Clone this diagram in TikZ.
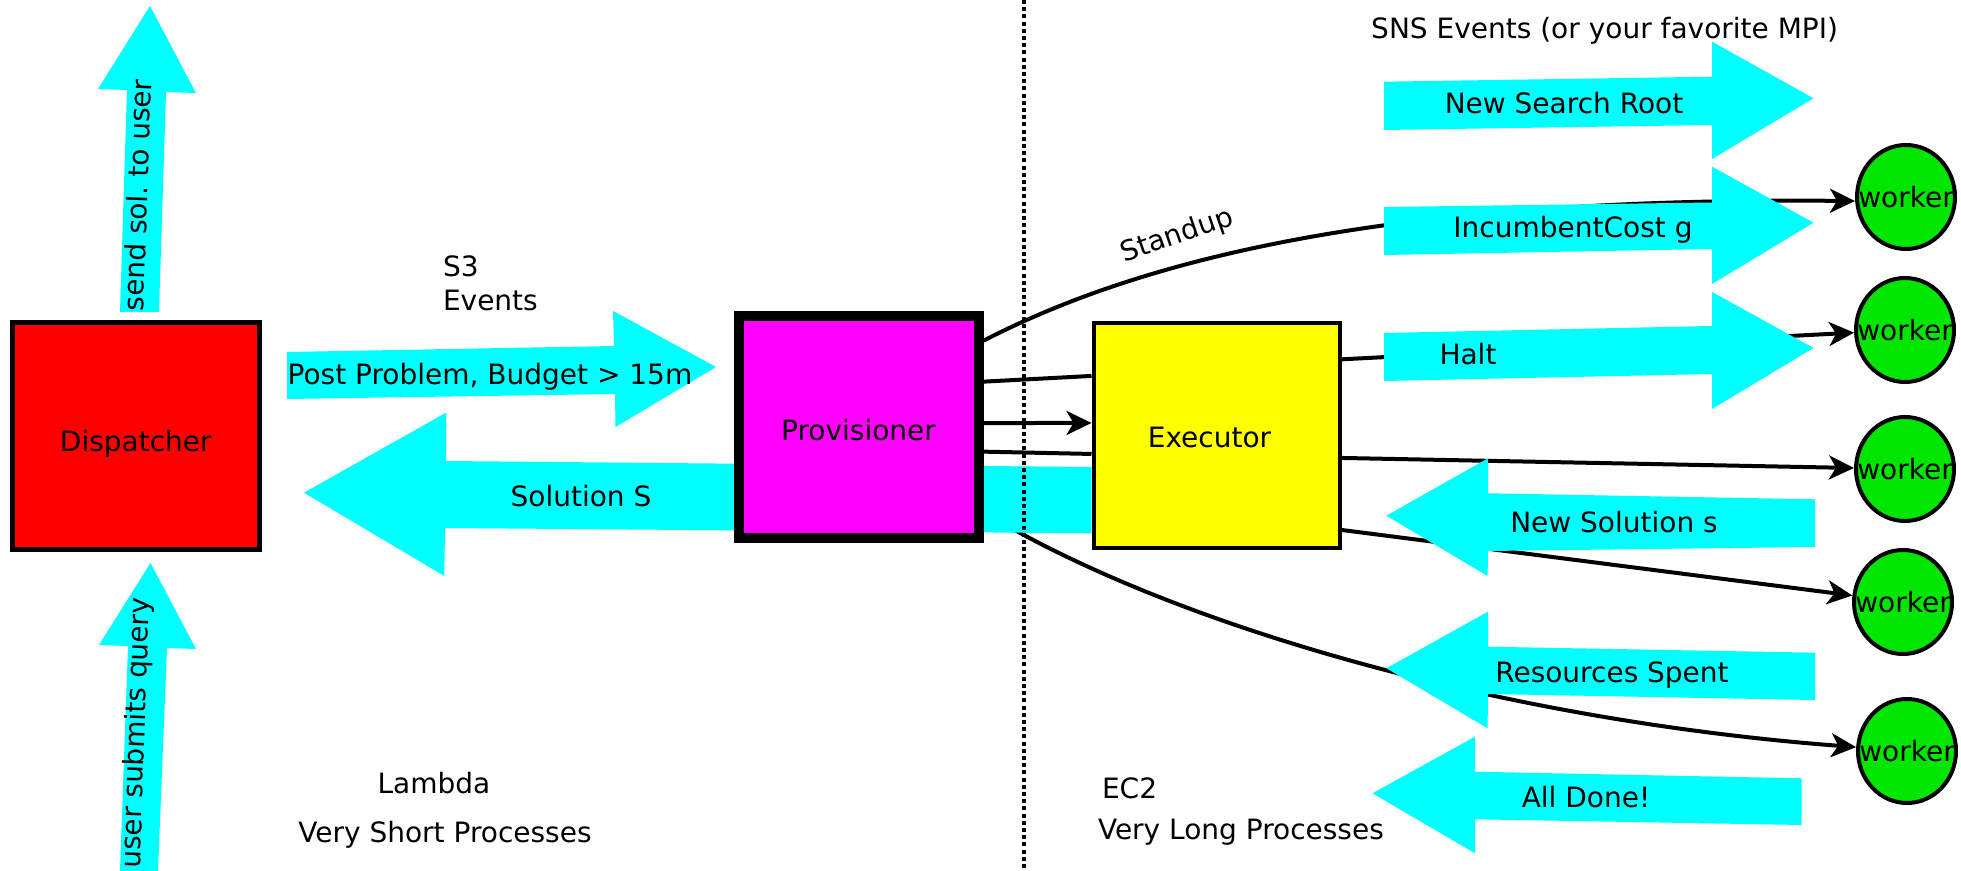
\documentclass[tikz,border=0pt]{standalone}
\usepackage{fontspec}
\setmainfont{DejaVu Sans}
\usetikzlibrary{arrows.meta,shapes.geometric}
\pgfdeclarelayer{back}
\pgfdeclarelayer{mid}
\pgfsetlayers{back,mid,main}
\definecolor{flowcyan}{HTML}{00FFFF}
\definecolor{dispred}{HTML}{FF0000}
\definecolor{provmag}{HTML}{FF00FF}
\definecolor{exeyellow}{HTML}{FFFF00}
\definecolor{workgreen}{HTML}{00E600}

\begin{document}
\begin{tikzpicture}[x=0.5pt,y=-0.5pt,
  lbl/.style={font=\fontsize{14pt}{16.8pt}\selectfont, inner sep=0pt, outer sep=0pt},
  procbox/.style={draw=black, rectangle},
  workernode/.style={draw=black, ellipse, line width=2pt, fill=workgreen,
    minimum width=49pt, minimum height=52pt, inner sep=0pt,
    label={[lbl]center:worker}},
  conn/.style={draw=black, line width=2pt},
  arr/.style={conn, -{Stealth[length=12.5pt,width=12pt,inset=3.5pt]}},
  flow/.style={fill=flowcyan},
  divider/.style={draw=black, line width=2pt, dash pattern=on 2pt off 1.6pt}
]
\useasboundingbox (0,0) rectangle (1961,871);

% process boxes
\node[procbox, fill=dispred, line width=2.5pt, minimum width=123.35pt, minimum height=113.55pt] (disp) at (135.85,435.65) {};
\node[lbl] (disptxt) at ([yshift=-4pt]disp.center) {Dispatcher};
\node[procbox, fill=provmag, line width=5pt, minimum width=120pt, minimum height=110.85pt] (prov) at (858.5,426.85) {};
\node[lbl] (provtxt) at ([yshift=-1.5pt]prov.center) {Provisioner};
\node[procbox, fill=exeyellow, line width=2pt, minimum width=123pt, minimum height=112.65pt] (exe) at (1216.5,435.35) {};
\node[lbl] (exetxt) at ([xshift=-3.5pt,yshift=-1pt]exe.center) {Executor};

% workers
\node[workernode] (w1) at (1906,197) {};
\node[workernode] (w2) at (1905,330) {};
\node[workernode] (w3) at (1905,469) {};
\node[workernode] (w4) at (1903,602) {};
\node[workernode] (w5) at (1907,751) {};

% connectors (behind the event arrows)
\begin{pgfonlayer}{back}
\draw[arr] ([yshift=43.08pt]prov.east) .. controls (1150,255) and (1400,197) .. ([yshift=-2pt]w1.west);
\draw[conn] ([yshift=22.6pt]prov.east) -- ([yshift=29.7pt]exe.west);
\draw[arr] ([yshift=1.9pt]prov.east) -- ([yshift=6.2pt]exe.west);
\draw[conn] ([yshift=-12.4pt]prov.east) -- ([yshift=-9.3pt]exe.west);
\draw[arr] ([yshift=-42.6pt]prov.east) .. controls (1170,625) and (1500,720) .. (w5);
\draw[arr] ([yshift=38pt]exe.east) -- (w2);
\draw[arr] ([yshift=-11.3pt]exe.east) -- (w3);
\draw[arr] ([yshift=-47.3pt]exe.east) -- (w4);
\end{pgfonlayer}

% event arrows
\begin{pgfonlayer}{mid}
\fill[flow] (120,312) -- (159,312) -- (166,92) -- (196,93) -- (150,6) -- (98,89) -- (127,90) -- cycle;
\fill[flow] (120,871) -- (158,871) -- (167,648) -- (196,649) -- (150.5,563) -- (99,645) -- (128,646) -- cycle;
\fill[flow] (287,352) -- (614,346) -- (613,311) -- (716,367) -- (615.5,427) -- (615,394) -- (287,399) -- cycle;
\fill[flow] (exe.west |- 0,467) -- (446,461) -- (446,412.7) -- (304,492.7) -- (444.3,576) -- (445,528) -- (exe.west |- 0,533.3) -- cycle;
\fill[flow] (1384,81.7) -- (1712,76.7) -- (1712,41.7) -- (1813.5,98.3) -- (1712,159) -- (1712,125) -- (1384,130) -- cycle;
\fill[flow] (1384,207) -- (1712,202.5) -- (1712,166.7) -- (1813.5,222.7) -- (1712,284) -- (1712,249) -- (1384,255) -- cycle;
\fill[flow] (1384,333) -- (1712,326) -- (1712,292) -- (1813.5,348) -- (1712,409) -- (1712,374) -- (1384,381) -- cycle;
\fill[flow] (1815,499.3) -- (1488,493.3) -- (1488,458.3) -- (1386.4,515.7) -- (1487.6,576) -- (1488,551) -- (1815,547) -- cycle;
\fill[flow] (1815,652.7) -- (1488,646.7) -- (1488,611.7) -- (1386.4,668.3) -- (1487.6,728.3) -- (1488,694) -- (1815,700) -- cycle;
\fill[flow] (1801.7,778.3) -- (1475,771.7) -- (1475,736.7) -- (1372.5,793.3) -- (1475,853.3) -- (1475,819.3) -- (1801.7,825) -- cycle;
\end{pgfonlayer}

% boundary between Lambda and EC2
\draw[divider] (1023.5,0) -- (1023.5,871);

% labels
\node[lbl, rotate=88] (sendlbl) at (137,195) {send sol.\ to user};
\node[lbl, rotate=88] (userlbl) at (137,733) {user submits query};
\node[lbl, align=left, anchor=north west] (s3lbl) at (443,256) {S3\\Events};
\node[lbl] (postlbl) at (490,377) {Post Problem, Budget > 15m};
\node[lbl] (sollbl) at (581,496) {Solution S};
\node[lbl, rotate=19] (standlbl) at (1177,236) {Standup};
\node[lbl] (snslbl) at (1604.6,31) {SNS Events (or your favorite MPI)};
\node[lbl] (rootlbl) at (1564,103) {New Search Root};
\node[lbl] (inclbl) at (1573,230) {IncumbentCost g};
\node[lbl] (haltlbl) at (1468,354) {Halt};
\node[lbl] (nsollbl) at (1614,522) {New Solution s};
\node[lbl] (reslbl) at (1612,675) {Resources Spent};
\node[lbl] (donelbl) at (1586,797) {All Done!};
\node[lbl] (lambdalbl) at (434,783) {Lambda};
\node[lbl] (shortlbl) at (445,835) {Very Short Processes};
\node[lbl, anchor=west] (ec2lbl) at (1102,788) {EC2};
\node[lbl, anchor=west] (longlbl) at (1098,832) {Very Long Processes};
\end{tikzpicture}
\end{document}
